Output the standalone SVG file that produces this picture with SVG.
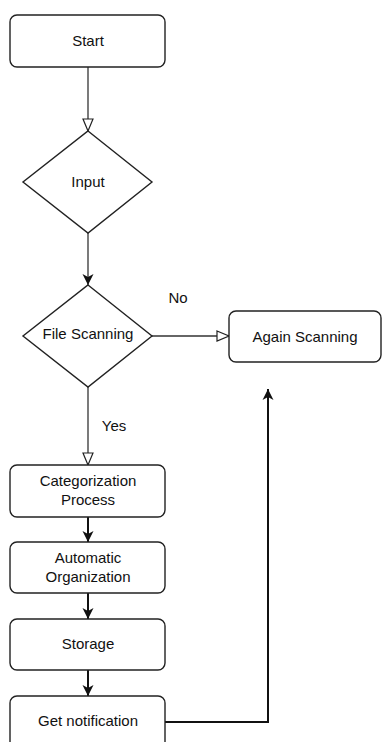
<svg xmlns="http://www.w3.org/2000/svg" width="382" height="742" viewBox="0 0 382 742">
<defs>
<marker id="hollow" markerWidth="14" markerHeight="12" refX="13" refY="6" orient="auto" markerUnits="userSpaceOnUse">
<path d="M1,1 L13,6 L1,11 Z" fill="#fff" stroke="#222" stroke-width="1.2"/>
</marker>
<marker id="filled" markerWidth="12" markerHeight="12" refX="11" refY="6" orient="auto" markerUnits="userSpaceOnUse">
<path d="M0,0.5 L11,6 L0,11.5 L3,6 Z" fill="#111"/>
</marker>
</defs>
<style>
.box{fill:#fff;stroke:#222;stroke-width:1.4}
.t{font-family:"Liberation Sans",Arial,sans-serif;font-size:15px;fill:#111;text-anchor:middle}
.c{fill:none;stroke:#333;stroke-width:1.3}
.cb{fill:none;stroke:#111;stroke-width:2}
</style>
<rect width="382" height="742" fill="#fff"/>
<g id="connectors">
<line class="c" x1="88" y1="67" x2="88" y2="131" marker-end="url(#hollow)"/>
<line class="c" x1="88" y1="233" x2="88" y2="285" marker-end="url(#filled)"/>
<line class="c" x1="152" y1="336" x2="229" y2="336" marker-end="url(#hollow)"/>
<line class="c" x1="88" y1="387" x2="88" y2="465" marker-end="url(#hollow)"/>
<line class="cb" x1="88" y1="517" x2="88" y2="542" marker-end="url(#filled)"/>
<line class="cb" x1="88" y1="593" x2="88" y2="619" marker-end="url(#filled)"/>
<line class="cb" x1="88" y1="670" x2="88" y2="696" marker-end="url(#filled)"/>
<polyline class="cb" points="165,722 268,722 268,389" marker-end="url(#filled)"/>
<text class="t" x="178" y="303">No</text>
<text class="t" x="114" y="431">Yes</text>
</g>
<g id="start"><rect class="box" x="10" y="15" width="155" height="52" rx="7"/><text class="t" x="88" y="46">Start</text></g>
<g id="input"><polygon class="box" points="88,131 152,182 88,233 23,182"/><text class="t" x="88" y="187">Input</text></g>
<g id="fileScanning"><polygon class="box" points="88,285 152,336 88,387 23,336"/><text class="t" x="88" y="339">File Scanning</text></g>
<g id="againScanning"><rect class="box" x="229" y="311" width="152" height="51" rx="7"/><text class="t" x="305" y="342">Again Scanning</text></g>
<g id="categorization"><rect class="box" x="10" y="465" width="155" height="52" rx="7"/><text class="t" x="88" y="486">Categorization</text><text class="t" x="88" y="505">Process</text></g>
<g id="automatic"><rect class="box" x="10" y="542" width="155" height="51" rx="7"/><text class="t" x="88" y="563">Automatic</text><text class="t" x="88" y="582">Organization</text></g>
<g id="storage"><rect class="box" x="10" y="619" width="155" height="51" rx="7"/><text class="t" x="88" y="649">Storage</text></g>
<g id="notification"><rect class="box" x="10" y="696" width="155" height="60" rx="7"/><text class="t" x="88" y="726">Get notification</text></g>
</svg>
